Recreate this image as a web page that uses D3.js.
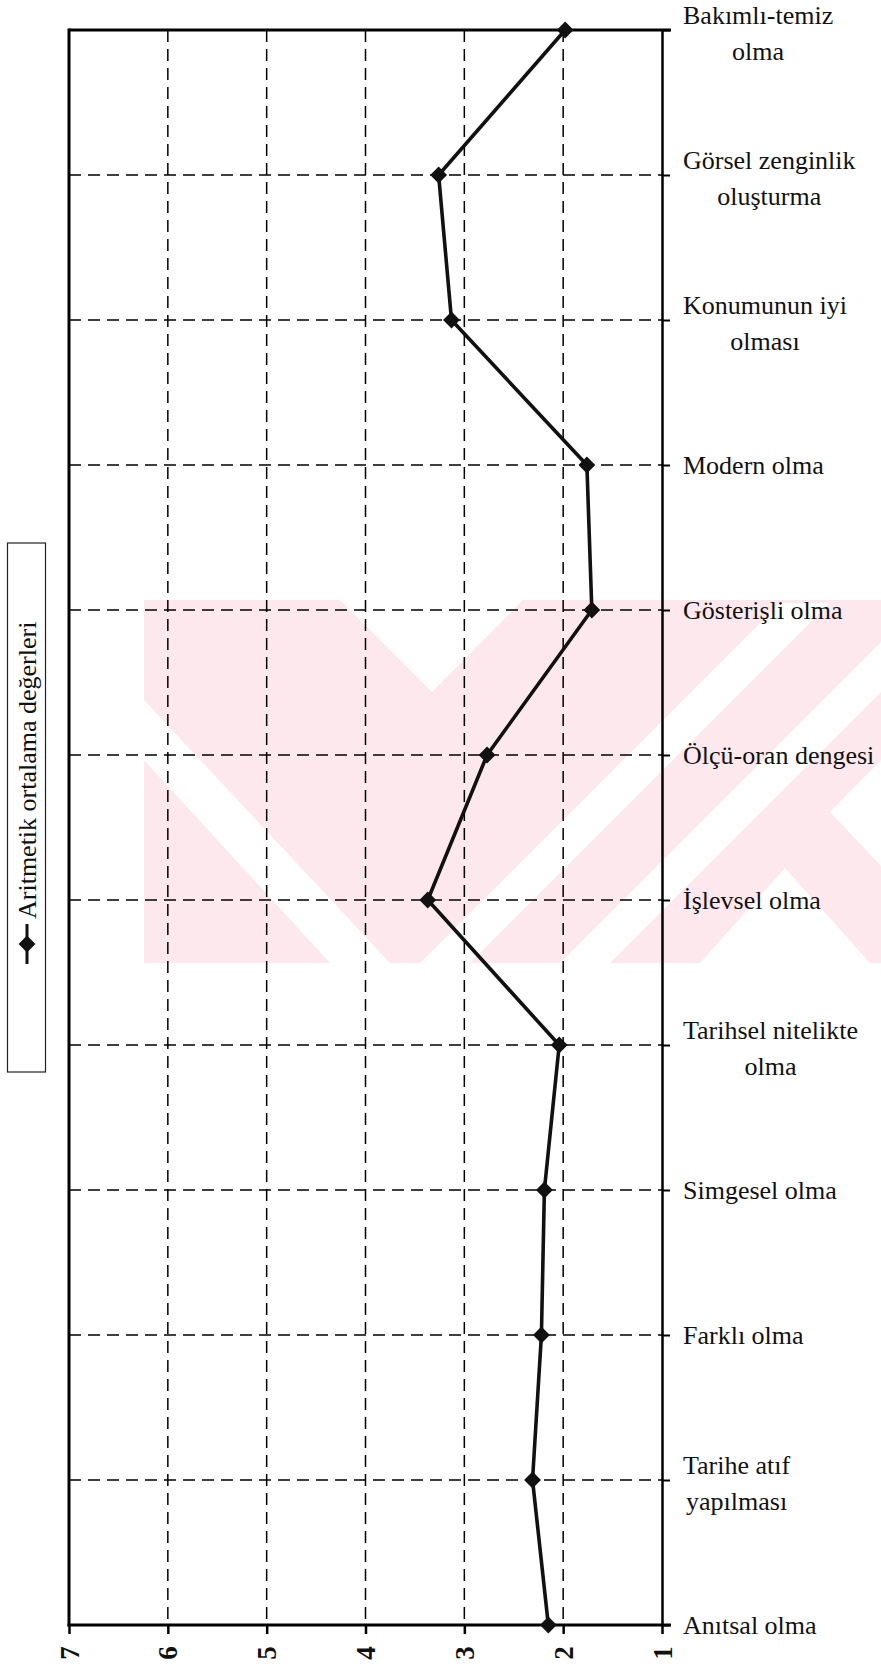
<!DOCTYPE html>
<html lang="tr">
<head>
<meta charset="UTF-8">
<title>Aritmetik ortalama değerleri</title>
<style>
  body { margin: 0; background: #fff; }
  svg { display: block; font-family: "Liberation Serif", "Times New Roman", serif; }
  .grid { stroke: #000; stroke-width: 1.5px; stroke-dasharray: 12, 7; }
  .frame { stroke: #000; fill: none; }
  .cat { font-size: 26px; fill: #111; }
  .val text { font-size: 27px; fill: #111; }
</style>
</head>
<body>
<script src="https://d3js.org/d3.v7.min.js"></script>
<script>
  // categories, top to bottom ("\n" = line break in the label)
  const categories = [
    "Bakımlı-temiz\nolma",
    "Görsel zenginlik\noluşturma",
    "Konumunun iyi\nolması",
    "Modern olma",
    "Gösterişli olma",
    "Ölçü-oran dengesi",
    "İşlevsel olma",
    "Tarihsel nitelikte\nolma",
    "Simgesel olma",
    "Farklı olma",
    "Tarihe atıf\nyapılması",
    "Anıtsal olma"
  ];
  const means = [1.98, 3.26, 3.13, 1.76, 1.71, 2.77, 3.37, 2.04, 2.19, 2.22, 2.31, 2.15];
  const valueTicks = [7, 6, 5, 4, 3, 2, 1];
  const seriesName = "Aritmetik ortalama değerleri";

  const W = 881, H = 1668;
  const m = { l: 69, r: 662, t: 30, b: 1625 };
  const serif = '"Liberation Serif", "Times New Roman", serif';

  const svg = d3.select("body").append("svg")
    .attr("width", W).attr("height", H);

  // watermark (pale pink stripes behind the chart)
  svg.append("rect").attr("fill", "#fde9ed")
    .attr("x", 144).attr("y", 600).attr("width", W - 144).attr("height", 363);
  const white = svg.append("g").attr("fill", "#fff");
  [
    [[340, 600], [523, 600], [432, 692]],
    [[144, 700], [144, 760], [330, 963], [390, 963]],
    [[420, 963], [470, 963], [830, 603], [780, 603]],
    [[560, 963], [610, 963], [881, 692], [881, 642]],
    [[700, 963], [785, 868], [870, 963]],
    [[881, 760], [830, 812], [881, 866]]
  ].forEach(p => white.append("polygon").attr("points", p.join(" ")));

  const x = d3.scaleLinear().domain([7, 1]).range([m.l, m.r]);
  const y = d3.scalePoint().domain(categories).range([m.t, m.b]);

  // gridlines
  svg.append("g").selectAll("line")
    .data(valueTicks.filter(v => v !== 7 && v !== 1))
    .join("line").attr("class", "grid")
    .attr("x1", d => x(d)).attr("x2", d => x(d))
    .attr("y1", m.t).attr("y2", m.b);
  svg.append("g").selectAll("line")
    .data(categories.slice(1, -1))
    .join("line").attr("class", "grid")
    .attr("x1", m.l).attr("x2", m.r)
    .attr("y1", d => y(d)).attr("y2", d => y(d));

  // frame
  svg.append("line").attr("class", "frame").attr("stroke-width", 3)
    .attr("x1", m.l).attr("x2", m.l).attr("y1", m.t - 1.5).attr("y2", m.b + 1.5);
  svg.append("line").attr("class", "frame").attr("stroke-width", 3)
    .attr("x1", m.l).attr("x2", m.r + 9).attr("y1", m.t).attr("y2", m.t);

  // value axis (bottom), labels rotated
  const xAxis = svg.append("g").attr("class", "val")
    .attr("transform", `translate(0,${m.b})`)
    .call(d3.axisBottom(x).tickValues(valueTicks).tickFormat(d3.format("d")).tickSize(9).tickSizeOuter(0))
    .attr("font-family", serif);
  xAxis.select(".domain").attr("stroke-width", 3).attr("d", `M${m.l - 1.5},0H${m.r + 9}`);
  xAxis.selectAll(".tick line").attr("stroke-width", 2.5);
  xAxis.selectAll(".tick text")
    .attr("y", 0).attr("dy", null)
    .attr("transform", "translate(0,28) rotate(-90)")
    .attr("text-anchor", "middle")
    .attr("dominant-baseline", "central")
    .attr("font-weight", "bold");

  // category axis (right)
  const yAxis = svg.append("g")
    .attr("transform", `translate(${m.r},0)`)
    .call(d3.axisRight(y).tickFormat("").tickSize(8).tickSizeOuter(0));
  yAxis.select(".domain").attr("stroke-width", 2.5);
  yAxis.selectAll(".tick line").attr("stroke-width", 2);

  const labels = svg.append("g").attr("class", "cat").attr("font-family", serif);
  categories.forEach(c => {
    const lines = c.split("\n");
    const t = labels.append("text").attr("text-anchor", "middle");
    const offs = lines.length === 1 ? [9] : [-6, 30];
    lines.forEach((ln, i) => t.append("tspan").text(ln).attr("y", y(c) + offs[i]));
    let wmax = 0;
    t.selectAll("tspan").each(function () { wmax = Math.max(wmax, this.getComputedTextLength()); });
    t.selectAll("tspan").attr("x", 683 + wmax / 2);
  });

  // series line and markers
  const pts = categories.map((c, i) => [x(means[i]), y(c)]);
  svg.append("path")
    .attr("d", d3.line()(pts))
    .attr("fill", "none").attr("stroke", "#111").attr("stroke-width", 3.6)
    .attr("stroke-linejoin", "round");
  const diamond = d3.symbol().type(d3.symbolDiamond2).size(180);
  svg.append("g").selectAll("path")
    .data(pts).join("path")
    .attr("d", diamond)
    .attr("transform", d => `translate(${d[0]},${d[1]})`)
    .attr("fill", "#111");

  // legend
  const lg = svg.append("g");
  lg.append("rect").attr("x", 7.5).attr("y", 543).attr("width", 38).attr("height", 529)
    .attr("fill", "#fff").attr("stroke", "#222").attr("stroke-width", 1.2);
  lg.append("line").attr("x1", 27).attr("x2", 27).attr("y1", 964).attr("y2", 924)
    .attr("stroke", "#111").attr("stroke-width", 3);
  lg.append("path").attr("d", diamond).attr("transform", "translate(27,944)").attr("fill", "#111");
  lg.append("text").text(seriesName)
    .attr("transform", "translate(27,919) rotate(-90)")
    .attr("dominant-baseline", "central")
    .attr("font-family", serif)
    .attr("font-size", 26).attr("fill", "#111");
</script>
</body>
</html>
